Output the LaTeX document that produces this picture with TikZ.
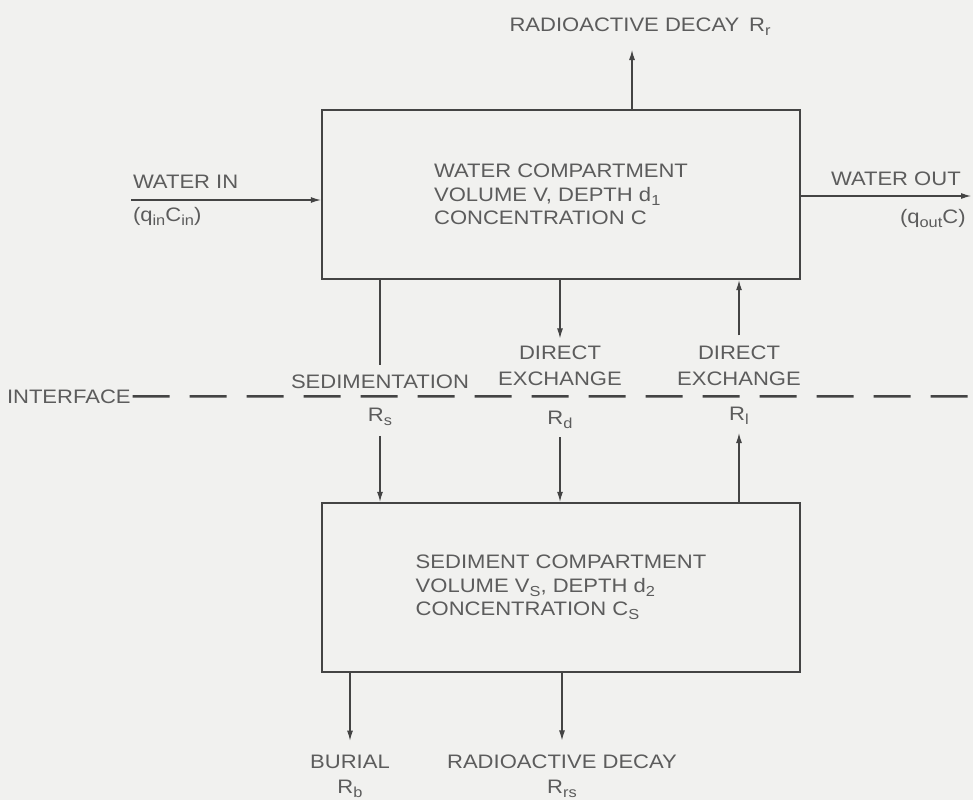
\documentclass[tikz,border=0pt]{standalone}
\usepackage{fontspec}
\setmainfont{Liberation Sans}[FakeStretch=1.13]
\usetikzlibrary{positioning,arrows.meta}

\definecolor{paper}{RGB}{241,241,239}
\definecolor{ink}{RGB}{68,68,68}
\definecolor{txt}{RGB}{92,92,92}

\newcommand{\lowsub}[1]{\raisebox{-4pt}{\fontsize{14.5}{14.5}\selectfont #1}}

\tikzset{
  compartment/.style={draw=ink, line width=2.4pt, minimum width=478pt, minimum height=169pt,
                      inner sep=0pt, align=left, text=txt},
  tag/.style={text=txt, inner sep=0pt, outer sep=0pt},
  twoline/.style={tag, align=center, font=\fontsize{19.5}{25.5}\selectfont},
  wire/.style={draw=ink, line width=1.1pt},
  flow/.style={wire, -{Latex[length=10pt,width=6pt]}},
  interfaceline/.style={draw=ink, line width=2.5pt, dash pattern=on 37pt off 20pt},
}

\begin{document}
\begin{tikzpicture}[x=1pt, y=-1pt, font=\fontsize{19.5}{23.5}\selectfont]

    \useasboundingbox (0,0) rectangle (973,800);
    \fill[paper] (0,0) rectangle (973,800);

      % Define nodes
	  \node[compartment] (water) at (561,194.5)
	    {WATER COMPARTMENT\\VOLUME V, DEPTH d\lowsub{1}\\CONCENTRATION C};
	  \node[compartment] (sediment) at (561,587.5)
	    {SEDIMENT COMPARTMENT\\VOLUME V\lowsub{S}, DEPTH d\lowsub{2}\\CONCENTRATION C\lowsub{S}};

	  \node[tag, anchor=base] (decay-r) at (640,32) {RADIOACTIVE DECAY\enspace R\lowsub{r}};
	  \node[tag, anchor=base west] (water-in) at (133,188) {WATER IN};
	  \node[tag, below=19.5pt of water-in.south west, anchor=north west] (q-in) {(q\lowsub{in}C\lowsub{in})};
	  \node[tag, anchor=base west] (water-out) at (831,185) {WATER OUT};
	  \node[tag, anchor=base west] (q-out) at (900,223) {(q\lowsub{out}C)};
	  \node[tag, anchor=base west] (interface) at (7,403) {INTERFACE};

	  \node[tag, anchor=base] (sed) at (380,388) {SEDIMENTATION};
	  \node[tag, below=20pt of sed] (sed-r) {R\lowsub{s}};
	  \node[twoline] (dx-down) at (560,366) {DIRECT\\EXCHANGE};
	  \node[tag, below=25pt of dx-down] (dx-down-r) {R\lowsub{d}};
	  \node[twoline] (dx-up) at (739,366) {DIRECT\\EXCHANGE};
	  \node[tag, below=21pt of dx-up] (dx-up-r) {R\lowsub{l}};

	  \node[tag, anchor=base] (burial) at (350,768) {BURIAL};
	  \node[tag, below=11.5pt of burial] (burial-r) {R\lowsub{b}};
	  \node[tag, anchor=base] (decay-s) at (562,768) {RADIOACTIVE DECAY};
	  \node[tag, below=11.5pt of decay-s] (decay-s-r) {R\lowsub{rs}};

	  \coordinate (decay-r-tip) at (632,50);
	  \coordinate (in-start) at (131,200);
	  \coordinate (out-end) at (971,196);
	  \coordinate (interface-end) at (973,396.3);

	  % Connect the nodes
	  \draw[flow] (water.north -| decay-r-tip) -- (decay-r-tip);
	  \draw[flow] (in-start) -- (in-start -| water.west);
	  \draw[flow] (water.east |- out-end) -- (out-end);
	  \draw[interfaceline] ([xshift=2pt]interface.east) -- (interface-end);

	  \draw[wire, shorten >=9pt] (water.south -| sed.north) -- (sed.north);
	  \draw[flow, shorten <=10pt] (sed-r.south) -- (sed-r.south |- sediment.north);
	  \draw[flow, shorten >=8pt] (water.south -| dx-down.north) -- (dx-down.north);
	  \draw[flow, shorten <=9pt] (dx-down-r.south) -- (dx-down-r.south |- sediment.north);
	  \draw[flow, shorten <=11pt] (dx-up.north) -- (dx-up.north |- water.south);
	  \draw[flow, shorten >=9pt] (sediment.north -| dx-up-r.south) -- (dx-up-r.south);

	  \draw[flow, shorten >=14pt] (sediment.south -| burial.north) -- (burial.north);
	  \draw[flow, shorten >=14pt] (sediment.south -| decay-s.north) -- (decay-s.north);

	\end{tikzpicture}
\end{document}
